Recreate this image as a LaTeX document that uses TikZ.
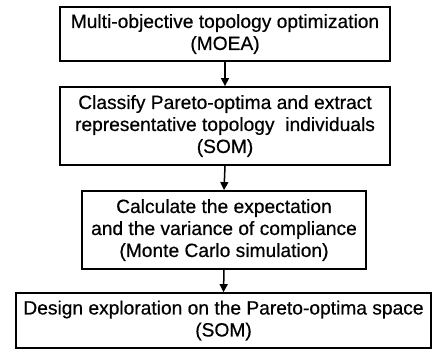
\documentclass[tikz,border=0pt]{standalone}
\usepackage{fontspec}
\setmainfont{Liberation Sans}[FakeBold=0.5]
\usetikzlibrary{arrows.meta}
\tikzset{
  stepbox/.style={draw=black, line width=1.8pt, fill=white, align=center,
    inner sep=0pt, font=\fontsize{19.2}{22}\selectfont},
  flow/.style={draw=black, line width=1.5pt, -{Triangle[length=8pt,width=8pt]}}
}
\begin{document}
\begin{tikzpicture}[x=1pt,y=-1pt]
  \fill[white] (0,0) rectangle (433,349);
  \useasboundingbox (0,0) rectangle (433,349);

  \node[stepbox, minimum width=330pt, minimum height=54pt] (moea) at (225,34)
    {Multi-objective topology optimization\\(MOEA)};
  \node[stepbox, minimum width=330pt, minimum height=78pt] (classify) at (225,126)
    {Classify Pareto-optima and extract\\representative topology~ individuals\\(SOM)};
  \node[stepbox, minimum width=284pt, minimum height=78pt] (calc) at (224,230)
    {Calculate the expectation\\and the variance of compliance\\(Monte Carlo simulation)};
  \node[stepbox, minimum width=415pt, minimum height=55pt] (explore) at (223.5,320.5)
    {Design exploration on the Pareto-optima space\\(SOM)};

  \draw[flow] (moea.south) -- (classify.north);
  \draw[flow] (classify.south) -- (calc.north);
  \draw[flow] (calc.south) -- (explore.north);
\end{tikzpicture}
\end{document}
